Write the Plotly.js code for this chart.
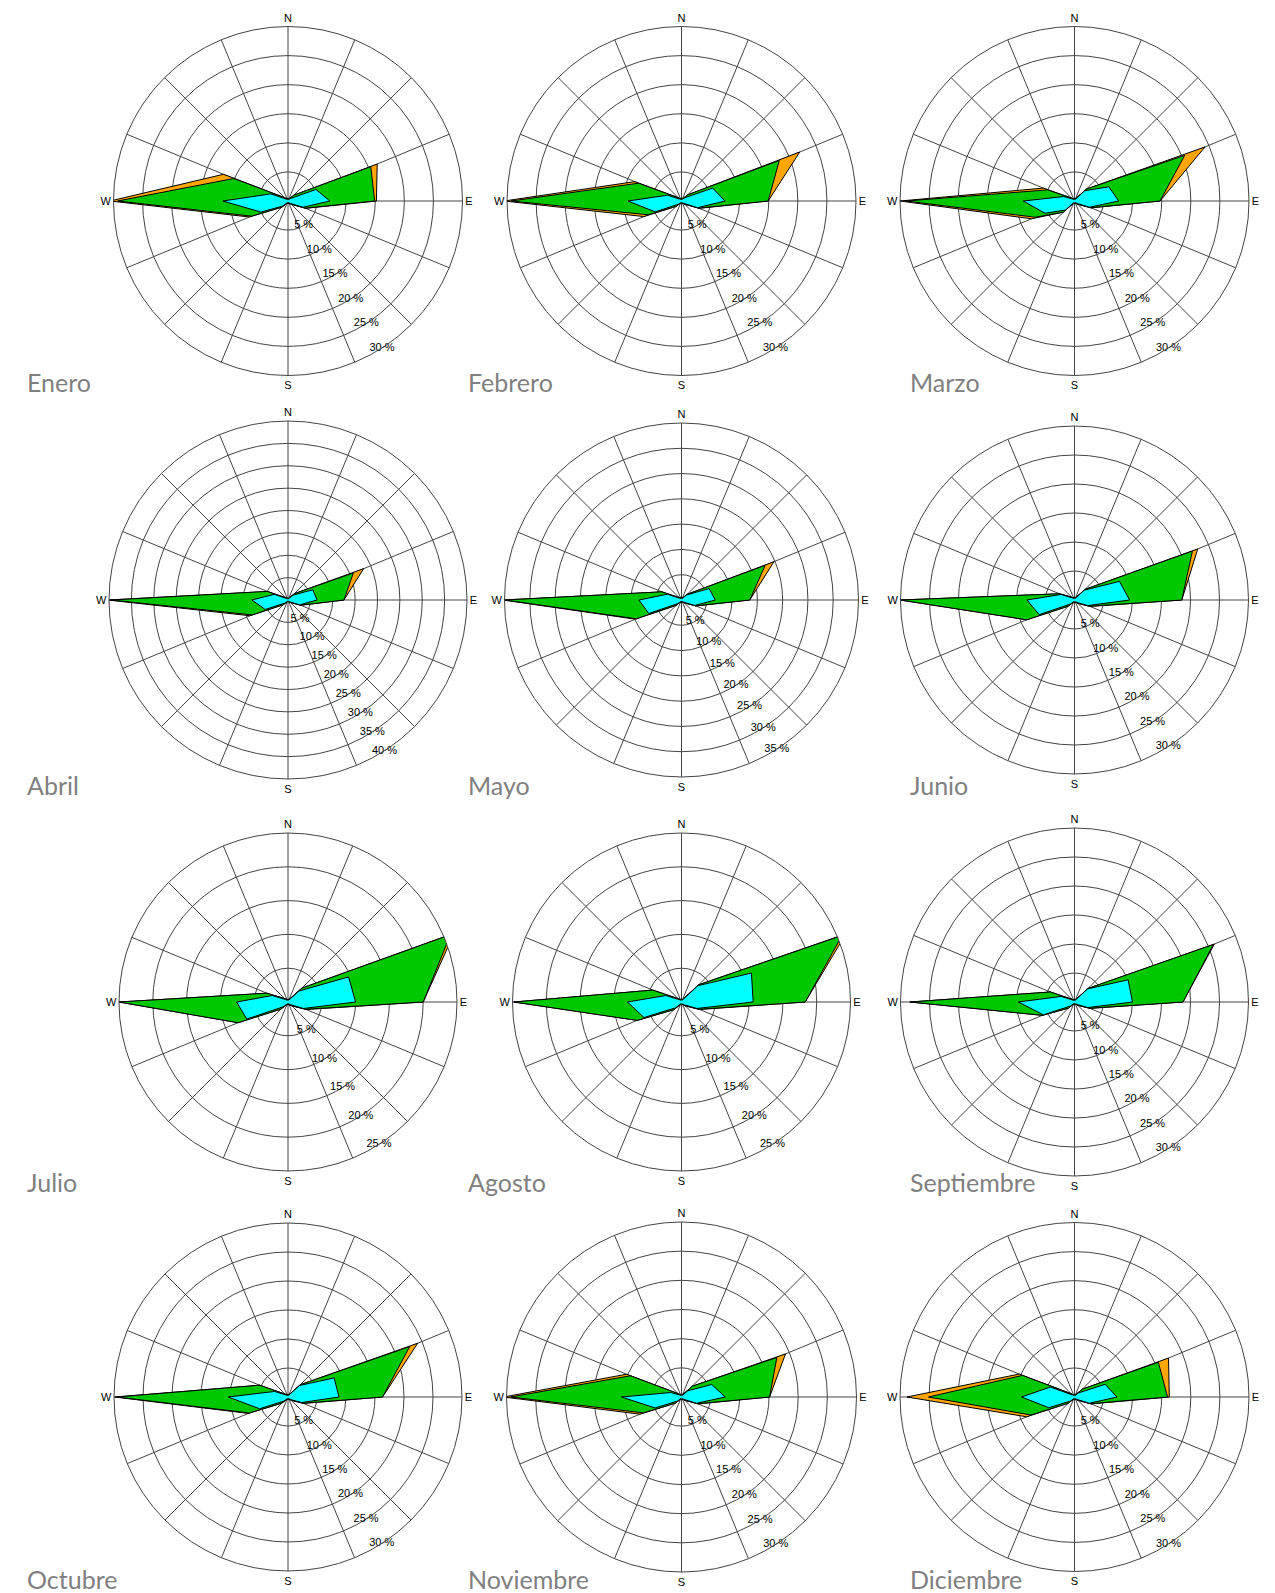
<!DOCTYPE html>
<html><head><meta charset="utf-8">
<script src="https://cdn.plot.ly/plotly-3.0.1.min.js"></script>
<style>html,body{margin:0;padding:0;background:#fff}</style>
</head><body><div id="chart" style="width:1275px;height:1593px"></div>
<script>
// Wind directions (16 points, compass bearing in degrees) and compass labels
const directions = ['N','NNE','NE','ENE','E','ESE','SE','SSE','S','SSW','SW','WSW','W','WNW','NW','NNW'];
const directionDeg = [0,22.5,45,67.5,90,112.5,135,157.5,180,202.5,225,247.5,270,292.5,315,337.5];
const compassLabels = ['N','','','','E','','','','S','','','','W','','',''];
const months = ['Enero','Febrero','Marzo','Abril','Mayo','Junio','Julio','Agosto','Septiembre','Octubre','Noviembre','Diciembre'];
const radialMax = [30,30,30,40,35,30,25,25,30,30,30,30];

// Cumulative frequency (%) per direction: Low = lowest speed class (cyan),
// Mid = low+mid classes (green), High = all classes (orange)
const eneroLow  = [0.3,0.3,0.6,5.2,7.2,2.8,0.6,0.3,0.3,0.3,1.2,5.0,11.2,3.2,0.5,0.3];
const eneroMid  = [0.4,0.4,1.4,15.4,14.9,3.2,0.8,0.4,0.4,0.4,1.5,6.8,29.3,10.1,0.8,0.4];
const eneroHigh = [0.4,0.4,1.4,16.6,15.2,3.3,0.8,0.4,0.4,0.4,1.5,7.2,30.6,12.0,0.8,0.4];

const febreroLow  = [0.3,0.3,0.8,5.8,7.5,3.0,0.6,0.3,0.3,0.3,0.8,4.9,9.2,2.6,0.5,0.3];
const febreroMid  = [0.4,0.4,1.5,18.2,14.9,3.2,0.8,0.4,0.4,0.4,1.3,6.2,29.3,8.0,0.8,0.4];
const febreroHigh = [0.4,0.4,1.5,22.0,14.9,3.3,0.8,0.4,0.4,0.4,1.3,7.0,30.5,8.7,0.8,0.4];

const marzoLow  = [0.3,0.3,2.5,6.4,7.6,2.8,0.6,0.3,0.3,0.3,2.2,5.5,8.8,2.0,0.5,0.3];
const marzoMid  = [0.4,0.4,2.9,20.5,14.7,3.0,0.8,0.4,0.4,0.4,2.7,7.3,29.0,5.0,0.7,0.4];
const marzoHigh = [0.4,0.4,2.9,24.3,14.7,3.1,0.8,0.4,0.4,0.4,2.7,8.0,30.0,5.8,0.7,0.4];

const abrilLow  = [0.3,0.3,1.5,6.0,6.5,2.8,0.6,0.3,0.3,0.3,1.0,5.5,8.1,3.3,0.5,0.3];
const abrilMid  = [0.4,0.4,2.0,15.8,12.5,3.0,0.8,0.4,0.4,0.4,1.5,8.7,39.5,5.0,0.7,0.4];
const abrilHigh = [0.4,0.4,2.0,18.3,12.5,3.1,0.8,0.4,0.4,0.4,1.5,9.2,40.3,5.0,0.7,0.4];

const mayoLow  = [0.3,0.3,1.4,5.9,6.7,2.8,0.6,0.3,0.3,0.3,1.0,7.0,8.4,3.0,0.5,0.3];
const mayoMid  = [0.4,0.4,1.6,17.9,13.5,3.0,0.8,0.4,0.4,0.4,1.5,9.7,34.9,4.2,0.7,0.4];
const mayoHigh = [0.4,0.4,1.6,19.8,13.5,3.1,0.8,0.4,0.4,0.4,1.5,9.9,35.3,4.2,0.7,0.4];

const junioLow  = [0.3,0.3,2.4,8.4,9.5,2.5,0.6,0.3,0.3,0.3,1.0,6.6,8.2,2.5,0.5,0.3];
const junioMid  = [0.4,0.4,2.6,22.0,18.5,2.8,0.8,0.4,0.4,0.4,1.5,8.9,30.0,2.8,0.7,0.4];
const junioHigh = [0.4,0.4,2.6,23.0,18.5,2.9,0.8,0.4,0.4,0.4,1.5,8.9,30.1,2.8,0.7,0.4];

const julioLow  = [0.3,0.3,2.3,9.7,10.0,2.5,0.6,0.3,0.3,0.3,1.0,6.6,7.6,2.5,0.5,0.3];
const julioMid  = [0.4,0.4,2.9,26.0,20.0,2.8,0.8,0.4,0.4,0.4,1.5,8.0,25.0,3.4,0.7,0.4];
const julioHigh = [0.4,0.4,2.9,26.6,20.0,2.9,0.8,0.4,0.4,0.4,1.5,8.0,25.0,3.4,0.7,0.4];

const agostoLow  = [0.3,0.3,3.4,11.2,10.6,2.5,0.6,0.3,0.3,0.3,1.2,6.0,8.0,2.5,0.5,0.3];
const agostoMid  = [0.4,0.4,3.6,25.7,18.3,2.8,0.8,0.4,0.4,0.4,1.6,7.1,24.8,4.6,0.7,0.4];
const agostoHigh = [0.4,0.4,3.6,26.3,18.3,2.9,0.8,0.4,0.4,0.4,1.6,7.1,24.8,4.6,0.7,0.4];

const septiembreLow  = [0.3,0.3,3.2,10.0,10.0,2.5,0.6,0.3,0.3,0.3,1.0,5.8,9.7,2.5,0.5,0.3];
const septiembreMid  = [0.4,0.4,3.3,25.9,18.7,2.8,0.8,0.4,0.4,0.4,1.5,6.0,28.3,4.5,0.7,0.4];
const septiembreHigh = [0.4,0.4,3.3,26.1,18.7,2.9,0.8,0.4,0.4,0.4,1.5,6.0,28.4,4.5,0.7,0.4];

const octubreLow  = [0.3,0.3,2.8,8.6,8.8,2.5,0.6,0.3,0.3,0.3,1.0,5.3,10.3,2.5,0.5,0.3];
const octubreMid  = [0.4,0.4,3.0,22.7,16.3,2.8,0.8,0.4,0.4,0.4,1.5,7.2,29.5,5.3,0.7,0.4];
const octubreHigh = [0.4,0.4,3.0,24.2,16.3,2.9,0.8,0.4,0.4,0.4,1.5,7.4,29.9,5.3,0.7,0.4];

const noviembreLow  = [0.3,0.3,1.5,5.6,7.5,2.8,0.6,0.3,0.3,0.3,1.0,4.9,10.3,2.0,0.5,0.3];
const noviembreMid  = [0.4,0.4,2.6,17.7,15.1,3.0,0.8,0.4,0.4,0.4,1.5,7.1,29.3,9.5,0.8,0.4];
const noviembreHigh = [0.4,0.4,2.6,19.3,15.1,3.1,0.8,0.4,0.4,0.4,1.5,7.7,30.5,10.2,0.8,0.4];

const diciembreLow  = [0.3,0.3,1.0,5.7,7.3,2.8,0.6,0.3,0.3,0.3,1.0,4.8,9.1,4.5,0.5,0.3];
const diciembreMid  = [0.4,0.4,1.9,15.6,16.0,3.0,0.8,0.4,0.4,0.4,1.5,8.1,25.1,9.7,0.8,0.4];
const diciembreHigh = [0.4,0.4,1.9,17.5,16.3,3.1,0.8,0.4,0.4,0.4,1.5,8.9,28.8,10.3,0.8,0.4];

const monthSeries = [
  [eneroHigh, eneroMid, eneroLow],
  [febreroHigh, febreroMid, febreroLow],
  [marzoHigh, marzoMid, marzoLow],
  [abrilHigh, abrilMid, abrilLow],
  [mayoHigh, mayoMid, mayoLow],
  [junioHigh, junioMid, junioLow],
  [julioHigh, julioMid, julioLow],
  [agostoHigh, agostoMid, agostoLow],
  [septiembreHigh, septiembreMid, septiembreLow],
  [octubreHigh, octubreMid, octubreLow],
  [noviembreHigh, noviembreMid, noviembreLow],
  [diciembreHigh, diciembreMid, diciembreLow]
];

// ---- layout / styling ----
const W = 1275, H = 1593;
const colCx = [288, 681.5, 1074.5];
const rowCy = [201, 600, 1002, 1397];
const radii = [174.5,174.5,174.5,179,177,174,169,169,174,174,175,174.5];
const labelX = [25, 466, 908];
const labelY = [382, 785, 1182, 1579];
const radialLabelBearing = 147.4;
const fills = ['#ffa500', '#00c800', '#00ffff'];
const gridCol = '#444444';
const axisFont = {family: 'Liberation Sans, Arial, sans-serif', size: 11, color: '#000'};

const data = [];
const layout = {
  width: W, height: H,
  margin: {l: 0, r: 0, t: 0, b: 0},
  paper_bgcolor: '#fff',
  showlegend: false,
  annotations: []
};
const thetaClosed = directionDeg.concat([directionDeg[0]]);

for (let i = 0; i < 12; i++) {
  const key = i === 0 ? 'polar' : 'polar' + (i + 1);
  const cx = colCx[i % 3], cy = rowCy[Math.floor(i / 3)], r = radii[i];
  monthSeries[i].forEach((vals, k) => {
    data.push({
      type: 'scatterpolar', subplot: key,
      r: vals.concat([vals[0]]), theta: thetaClosed,
      mode: 'lines', fill: 'toself', fillcolor: fills[k],
      line: {color: '#000', width: 1},
      hoverinfo: 'skip'
    });
  });
  const tv = [];
  for (let v = 5; v <= radialMax[i]; v += 5) tv.push(v);
  // radial scale labels ("5 %", "10 %", ...) placed along one bearing
  data.push({
    type: 'scatterpolar', subplot: key,
    r: tv, theta: tv.map(() => radialLabelBearing),
    mode: 'text', text: tv.map(v => v + ' %'),
    textposition: 'middle center',
    textfont: axisFont, cliponaxis: false, hoverinfo: 'skip'
  });
  layout[key] = {
    domain: {x: [(cx - r) / W, (cx + r) / W], y: [1 - (cy + r) / H, 1 - (cy - r) / H]},
    bgcolor: '#fff',
    angularaxis: {
      type: 'linear', thetaunit: 'degrees',
      rotation: 90, direction: 'clockwise',
      tickmode: 'array', tickvals: directionDeg, ticktext: compassLabels,
      showgrid: true, gridcolor: gridCol, gridwidth: 1,
      showline: true, linecolor: gridCol, linewidth: 1,
      ticks: '', tickfont: axisFont
    },
    radialaxis: {
      range: [0, radialMax[i]], tickmode: 'array', tickvals: tv,
      showgrid: true, gridcolor: gridCol, gridwidth: 1,
      showline: false, showticklabels: false,
      ticks: 'outside', ticklen: 4, tickwidth: 0.8, tickcolor: '#333',
      side: 'counterclockwise', angle: 90 - radialLabelBearing
    }
  };
  layout.annotations.push({
    xref: 'paper', yref: 'paper',
    x: labelX[i % 3] / W, y: 1 - labelY[Math.floor(i / 3)] / H,
    xanchor: 'left', yanchor: 'middle', showarrow: false,
    text: months[i],
    font: {family: 'Lato, "Open Sans", sans-serif', size: 25, color: '#808080'}
  });
}

Plotly.newPlot('chart', data, layout, {staticPlot: true, displayModeBar: false});
</script>
</body></html>
